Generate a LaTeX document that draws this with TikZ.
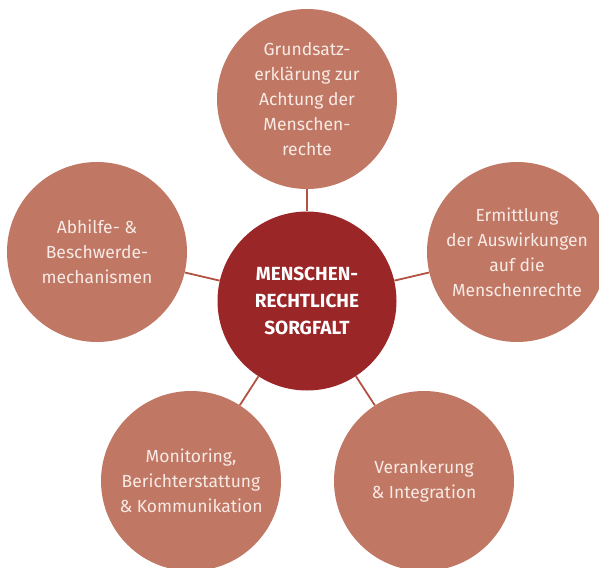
\documentclass[tikz,border=0pt]{standalone}
\usepackage{fontspec}
\setmainfont{Fira Sans}
\definecolor{outerfill}{RGB}{192,119,100}
\definecolor{corefill}{RGB}{155,38,40}
\definecolor{linkline}{RGB}{178,82,66}
\definecolor{paletext}{RGB}{248,234,228}
\begin{document}
\begin{tikzpicture}[x=1pt, y=-1pt,
    field/.style={circle, fill=outerfill, minimum size=180pt, inner sep=0pt, text=paletext, align=center, font=\fontsize{17.5}{25}\selectfont},
    core/.style={circle, fill=corefill, minimum size=179pt, inner sep=0pt, text=white, align=center, font=\fontsize{19}{27}\selectfont\bfseries},
    link/.style={draw=linkline, line width=1.8pt}]
    \useasboundingbox (0,0) rectangle (599,567);
    \begin{scope}
        \clip (0,0) rectangle (599,567);
        \node[core] (sorgfalt) at (307,301) {MENSCHEN-\\RECHTLICHE\\SORGFALT};
        \node[field] (grund) at (307,99) {Grundsatz-\\erklärung zur\\Achtung der\\Menschen-\\rechte};
        \node[field] (ermitt) at (517,252) {Ermittlung\\der Auswirkungen\\auf die\\Menschenrechte};
        \node[field] (veran) at (424,481) {Verankerung\\\& Integration};
        \node[field] (monit) at (191,481) {Monitoring,\\Berichterstattung\\\& Kommunikation};
        \node[field] (abhilfe) at (97,252) {Abhilfe- \&\\Beschwerde-\\mechanismen};
        \draw[link] (sorgfalt) -- (grund);
        \draw[link] (sorgfalt) -- (ermitt);
        \draw[link] (sorgfalt) -- (veran);
        \draw[link] (sorgfalt) -- (monit);
        \draw[link] (sorgfalt) -- (abhilfe);
    \end{scope}
\end{tikzpicture}
\end{document}
